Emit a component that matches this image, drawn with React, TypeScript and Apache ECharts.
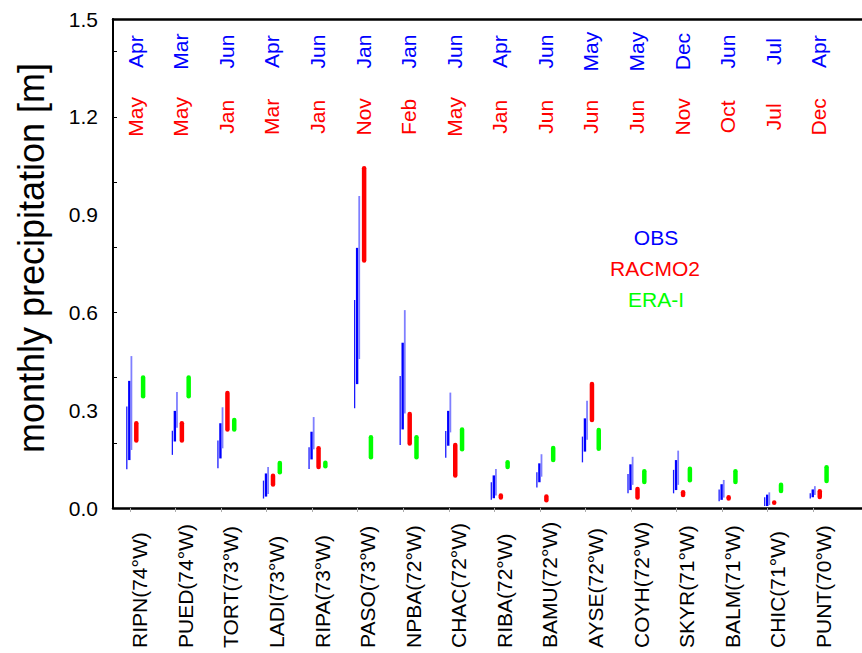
import React, { useEffect, useRef } from "react";
import * as echarts from "echarts";

const stations = [
  "RIPN(74°W)", "PUED(74°W)", "TORT(73°W)", "LADI(73°W)", "RIPA(73°W)", "PASO(73°W)",
  "NPBA(72°W)", "CHAC(72°W)", "RIBA(72°W)", "BAMU(72°W)", "AYSE(72°W)", "COYH(72°W)",
  "SKYR(71°W)", "BALM(71°W)", "CHIC(71°W)", "PUNT(70°W)",
];
const obsMaxMonth = ["Apr", "Mar", "Jun", "Apr", "Jun", "Jan", "Jan", "Jun", "Apr", "Jun", "May", "May", "Dec", "Jun", "Jul", "Apr"];
const racmoMaxMonth = ["May", "May", "Jan", "Mar", "Jan", "Nov", "Feb", "May", "Jan", "Jun", "Jun", "Jun", "Nov", "Oct", "Jul", "Dec"];

// [low, high] monthly precipitation ranges (m)
const obsA = [
  [0.119, 0.311], [0.163, 0.237], [0.122, 0.207], [0.029, 0.084], [0.120, 0.186], [0.306, 0.638],
  [0.193, 0.405], [0.154, 0.236], [0.025, 0.079], [0.063, 0.110], [0.140, 0.219], [0.045, 0.104],
  [0.045, 0.117], [0.021, 0.057], [0.006, 0.033], [0.029, 0.045],
];
const obsB = [
  [0.147, 0.390], [0.204, 0.298], [0.152, 0.260], [0.035, 0.106], [0.149, 0.234], [0.380, 0.798],
  [0.241, 0.507], [0.191, 0.298], [0.030, 0.100], [0.079, 0.137], [0.173, 0.275], [0.055, 0.134],
  [0.055, 0.147], [0.025, 0.073], [0.006, 0.041], [0.033, 0.057],
];
const obsC = [
  [0.178, 0.466], [0.246, 0.356], [0.183, 0.309], [0.043, 0.126], [0.180, 0.279], [0.457, 0.957],
  [0.290, 0.607], [0.232, 0.354], [0.038, 0.120], [0.096, 0.165], [0.209, 0.329], [0.071, 0.157],
  [0.071, 0.176], [0.032, 0.086], [0.009, 0.048], [0.040, 0.067],
];
const racmo = [
  [0.200, 0.267], [0.200, 0.267], [0.234, 0.360], [0.065, 0.106], [0.119, 0.190], [0.752, 1.049],
  [0.191, 0.295], [0.093, 0.200], [0.025, 0.045], [0.017, 0.042], [0.263, 0.387], [0.025, 0.065],
  [0.033, 0.055], [0.022, 0.040], [0.009, 0.024], [0.027, 0.058],
];
const eraI = [
  [0.336, 0.407], [0.336, 0.407], [0.234, 0.277], [0.103, 0.145], [0.121, 0.146], [0.149, 0.224],
  [0.149, 0.224], [0.173, 0.248], [0.119, 0.147], [0.140, 0.191], [0.175, 0.246], [0.073, 0.120],
  [0.078, 0.127], [0.073, 0.120], [0.045, 0.078], [0.076, 0.132],
];
const yTickLabels = [0, 0.3, 0.6, 0.9, 1.2, 1.5];
const yMinorTicks = [0.2, 0.4, 0.6, 0.8, 1.0, 1.2, 1.4];

const FONT = "'Liberation Sans', Arial, Helvetica, sans-serif";

function rangeSeries(name: string, data: number[][], offset: number, color: string, width: number, round: boolean) {
  return {
    type: "custom",
    name,
    clip: false,
    data: data.map((d, i) => [i, d[0], d[1]]),
    encode: { x: 0, y: [1, 2] },
    renderItem: (params: any, api: any) => {
      const i = api.value(0);
      const lo = api.coord([i, api.value(1)]);
      const hi = api.coord([i, api.value(2)]);
      const x = lo[0] + offset;
      let y1 = lo[1];
      let y2 = hi[1];
      if (round) {
        const c = Math.min(width / 2, (y1 - y2) / 2);
        y1 -= c;
        y2 += c;
      }
      return {
        type: "line",
        shape: { x1: x, y1, x2: x, y2 },
        style: { stroke: color, lineWidth: width, lineCap: round ? "round" : "butt" },
      };
    },
  };
}

function textSeries(name: string, labels: string[], yValue: number, color: string, dx: number, dy: number, align: string) {
  return {
    type: "custom",
    name,
    clip: false,
    silent: true,
    data: labels.map((_, i) => [i, yValue]),
    encode: { x: 0, y: 1 },
    renderItem: (params: any, api: any) => {
      const i = api.value(0);
      const p = api.coord([i, api.value(1)]);
      return {
        type: "text",
        x: p[0] + dx,
        y: p[1] + dy,
        rotation: Math.PI / 2,
        style: {
          text: labels[i],
          fill: color,
          fontSize: 21,
          fontFamily: FONT,
          align,
          verticalAlign: "middle",
        },
      };
    },
  };
}

export default function App() {
  const ref = useRef<HTMLDivElement>(null);
  useEffect(() => {
    if (!ref.current) return;
    const chart = echarts.init(ref.current, null, { renderer: "svg" });
    const spacing = 47.45;
    const tick0 = 130.5;
    const gridLeft = 113;
    const gridWidth = 780;
    const xMin = -(tick0 - gridLeft) / spacing;
    const xMax = xMin + gridWidth / spacing;
    chart.setOption({
      animation: false,
      backgroundColor: "#ffffff",
      grid: {
        left: gridLeft,
        top: 19,
        width: gridWidth,
        height: 489,
        show: false,
      },
      xAxis: [
        {
          type: "value",
          min: xMin,
          max: xMax,
          position: "bottom",
          axisLine: { show: true, onZero: false, lineStyle: { color: "#000", width: 2.5 } },
          axisTick: {
            show: true,
            customValues: stations.map((_, i) => i),
            length: 4,
            lineStyle: { color: "#aaa", width: 1 },
          },
          axisLabel: { show: false },
          splitLine: { show: false },
        },
        {
          type: "value",
          min: xMin,
          max: xMax,
          position: "top",
          axisLine: { show: true, onZero: false, lineStyle: { color: "#000", width: 2.5 } },
          axisTick: { show: false },
          axisLabel: { show: false },
          splitLine: { show: false },
        },
      ],
      yAxis: {
        type: "value",
        min: 0,
        max: 1.5,
        interval: 0.3,
        axisLine: { show: true, onZero: false, lineStyle: { color: "#000", width: 2 } },
        axisTick: {
          show: true,
          inside: true,
          customValues: yMinorTicks,
          length: 4,
          lineStyle: { color: "#000", width: 1 },
        },
        axisLabel: {
          customValues: yTickLabels,
          formatter: (v: number) => v.toFixed(1),
          fontSize: 21,
          fontFamily: FONT,
          color: "#000",
          margin: 15,
        },
        splitLine: { show: false },
      },
      graphic: [
        {
          type: "text",
          x: 31,
          y: 258,
          rotation: Math.PI / 2,
          style: {
            text: "monthly precipitation [m]",
            fontSize: 36,
            fontFamily: FONT,
            fill: "#000",
            align: "center",
            verticalAlign: "middle",
          },
        },
        {
          type: "text", x: 656, y: 237,
          style: { text: "OBS", fontSize: 21, fontFamily: FONT, fill: "#0000ff", align: "center", verticalAlign: "middle" },
        },
        {
          type: "text", x: 655, y: 268,
          style: { text: "RACMO2", fontSize: 21, fontFamily: FONT, fill: "#ff0000", align: "center", verticalAlign: "middle" },
        },
        {
          type: "text", x: 656, y: 299,
          style: { text: "ERA-I", fontSize: 21, fontFamily: FONT, fill: "#00ff00", align: "center", verticalAlign: "middle" },
        },
      ],
      series: [
        rangeSeries("OBS", obsA, -3, "#1a1aff", 1.3, false),
        rangeSeries("OBS", obsB, -0.5, "#0000ff", 2.4, false),
        rangeSeries("OBS", obsC, 1.6, "#7f7fff", 1.8, false),
        rangeSeries("RACMO2", racmo, 6.5, "#ff0000", 4.5, true),
        rangeSeries("ERA-I", eraI, 13.3, "#00ff00", 4.5, true),
        textSeries("OBS month", obsMaxMonth, 1.4, "#0000ff", 5.5, 0, "center"),
        textSeries("RACMO2 month", racmoMaxMonth, 1.2, "#ff0000", 5.5, 0, "center"),
        textSeries("station", stations, 0, "#000", 10, 140, "left"),
      ],
    });
    return () => chart.dispose();
  }, []);
  return (
    <div
      ref={ref}
      style={{ position: "fixed", left: 0, top: 0, width: 862, height: 653, background: "#fff" }}
    />
  );
}
